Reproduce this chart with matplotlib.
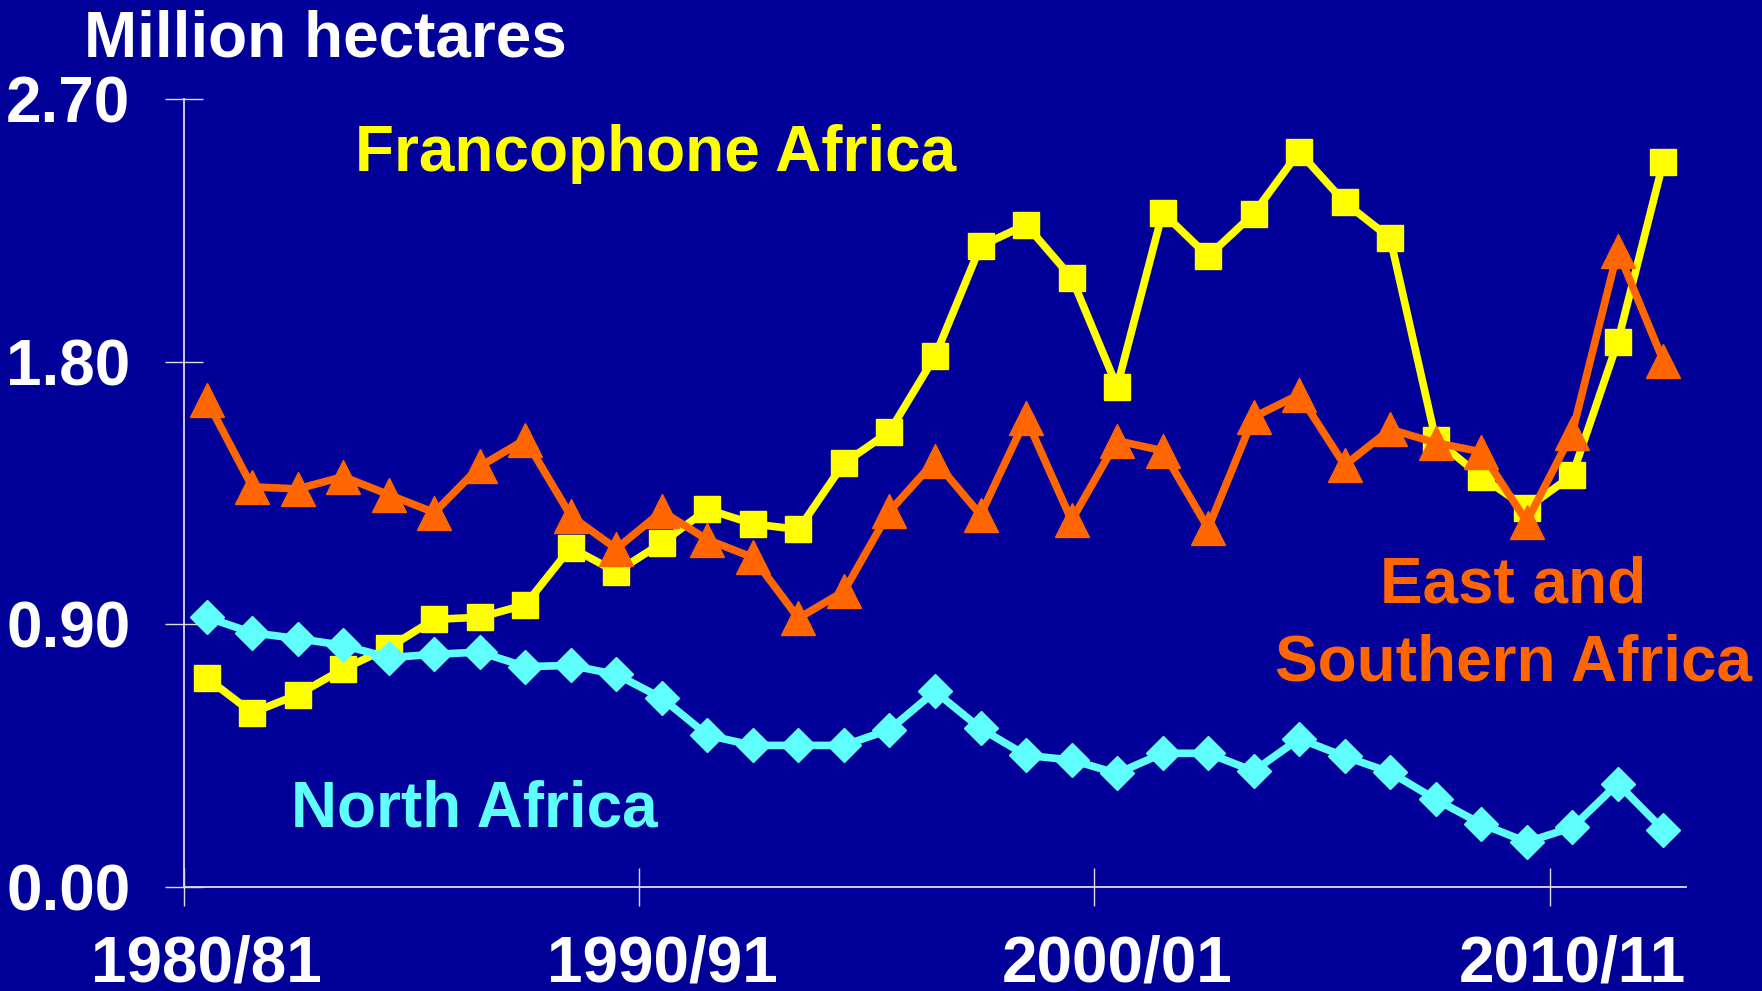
import matplotlib
matplotlib.use("Agg")
import matplotlib.pyplot as plt
from matplotlib.ticker import FixedLocator, FuncFormatter

years = [f"{y}/{(y + 1) % 100:02d}" for y in range(1980, 2013)]

francophone = [0.716, 0.597, 0.659, 0.747, 0.820, 0.917, 0.924, 0.967, 1.163, 1.079,
               1.179, 1.294, 1.244, 1.225, 1.452, 1.560, 1.818, 2.196, 2.269, 2.088,
               1.714, 2.311, 2.161, 2.307, 2.519, 2.346, 2.223, 1.533, 1.406, 1.298,
               1.410, 1.868, 2.485]

east_southern = [1.668, 1.371, 1.364, 1.406, 1.344, 1.283, 1.441, 1.533, 1.271, 1.159,
                 1.287, 1.190, 1.129, 0.921, 1.013, 1.287, 1.460, 1.275, 1.606, 1.256,
                 1.529, 1.495, 1.229, 1.610, 1.687, 1.445, 1.568, 1.522, 1.491, 1.252,
                 1.556, 2.180, 1.803]

north = [0.924, 0.871, 0.851, 0.828, 0.786, 0.797, 0.805, 0.755, 0.759, 0.728,
         0.647, 0.520, 0.485, 0.485, 0.485, 0.539, 0.670, 0.543, 0.451, 0.435,
         0.389, 0.458, 0.458, 0.397, 0.508, 0.447, 0.393, 0.300, 0.216, 0.154,
         0.204, 0.354, 0.196]

y_ticks = [0.0, 0.9, 1.8, 2.7]
label_years = ["1980/81", "1990/91", "2000/01", "2010/11"]

BG = "#000099"
YEL = "#FFFF00"
ORA = "#FF6600"
CYA = "#5FFFFF"
AX = "#DDDDDD"
FONT = "Liberation Sans"
FS = 46

fig = plt.figure(figsize=(17.62, 9.91), dpi=100, facecolor=BG)
ax = fig.add_axes([0.1044, 0.105, 0.8525, 0.7951])
ax.set_facecolor(BG)

x = list(range(len(years)))
ax.plot(x, francophone, color=YEL, lw=5.5, marker="s", ms=19, mec=YEL, mfc=YEL, clip_on=False, zorder=3)
ax.plot(x, east_southern, color=ORA, lw=5.5, marker="^", ms=24, mec=ORA, mfc=ORA, clip_on=False, zorder=4)
ax.plot(x, north, color=CYA, lw=5.5, marker="D", ms=17, mec=CYA, mfc=CYA, clip_on=False, zorder=5)

ax.set_xlim(-0.5, len(years) - 0.5)
ax.set_ylim(0, 2.7)

for s in ["top", "right"]:
    ax.spines[s].set_visible(False)
for s in ["left", "bottom"]:
    ax.spines[s].set_color(AX)
    ax.spines[s].set_linewidth(1.3)

# y axis
ax.yaxis.set_major_locator(FixedLocator(y_ticks))
ax.yaxis.set_major_formatter(FuncFormatter(lambda v, p: f"{v:.2f}"))
ax.tick_params(axis="y", direction="inout", length=27, width=1.0, color=AX,
               labelcolor="white", pad=25)
for lab in ax.get_yticklabels():
    lab.set_fontfamily(FONT)
    lab.set_fontweight("bold")
    lab.set_fontsize(FS)

# x axis: boundary ticks (major), labels at category centres (minor)
label_idx = [years.index(y) for y in label_years]
ax.xaxis.set_major_locator(FixedLocator([i - 0.5 for i in label_idx]))
ax.xaxis.set_major_formatter(FuncFormatter(lambda v, p: ""))
ax.xaxis.set_minor_locator(FixedLocator(label_idx))
ax.xaxis.set_minor_formatter(FuncFormatter(lambda v, p: years[int(round(v))]))
ax.tick_params(axis="x", which="major", direction="inout", length=28, width=1.0, color=AX)
ax.tick_params(axis="x", which="minor", length=0, labelcolor="white", pad=34)
for lab in ax.xaxis.get_minorticklabels():
    lab.set_fontfamily(FONT)
    lab.set_fontweight("bold")
    lab.set_fontsize(FS)

fig.text(0.0475, 0.9425, "Million hectares", color="white", fontsize=FS,
         fontweight="bold", fontfamily=FONT, ha="left", va="baseline")

tk = dict(fontsize=FS, fontweight="bold", fontfamily=FONT, ha="center", va="center")
ax.text(9.87, 2.513, "Francophone Africa", color=YEL, **tk)
ax.text(5.87, 0.264, "North Africa", color=CYA, **tk)
ax.text(28.7, 1.033, "East and", color=ORA, **tk)
ax.text(28.7, 0.766, "Southern Africa", color=ORA, **tk)

fig.savefig("out.png", dpi=100, facecolor=BG)
